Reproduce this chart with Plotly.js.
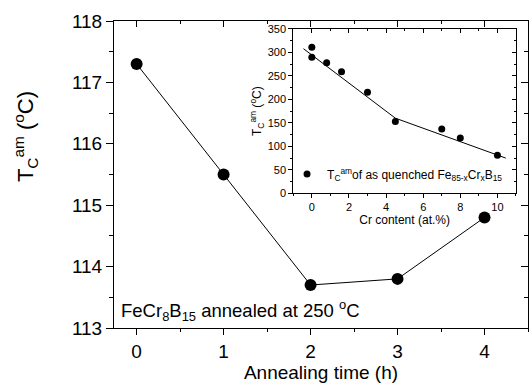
<!DOCTYPE html>
<html>
<head>
<meta charset="utf-8">
<script src="https://cdn.plot.ly/plotly-3.0.1.min.js"></script>
<style>html,body{margin:0;padding:0;background:#fff;}#chart{width:529px;height:385px;}</style>
</head>
<body>
<div id="chart"></div>
<script>
// Main chart data
const annealTime = [0, 1, 2, 3, 4];
const tcAnnealed = [117.3, 115.5, 113.7, 113.8, 114.8];

// Inset data
const crContent = [0, 0, 0.8, 1.6, 3, 4.5, 7, 8, 10];
const tcQuenched = [311, 290, 278, 259, 215, 153, 137, 118, 81];

// Inset guide line
const fitX = [-0.45, 4.5, 10.45];
const fitY = [308, 160, 75];

const mainXTicks = [0, 1, 2, 3, 4];
const mainYTicks = [113, 114, 115, 116, 117, 118];
const insetXTicks = [0, 2, 4, 6, 8, 10];
const insetYTicks = [0, 50, 100, 150, 200, 250, 300, 350];

const FONT = 'Liberation Sans, Arial, sans-serif';

const traces = [
  {x: annealTime, y: tcAnnealed, xaxis: 'x', yaxis: 'y', mode: 'lines+markers',
   line: {color: '#000', width: 1}, marker: {color: '#000', size: 12}, showlegend: false},
  {x: fitX, y: fitY, xaxis: 'x2', yaxis: 'y2', mode: 'lines',
   line: {color: '#000', width: 1}, showlegend: false},
  {x: crContent, y: tcQuenched, xaxis: 'x2', yaxis: 'y2', mode: 'markers',
   marker: {color: '#000', size: 7},
   name: 'T<sub>C</sub><sup>am</sup>of as quenched Fe<sub>85-x</sub>Cr<sub>x</sub>B<sub>15</sub>', showlegend: true},
  {x: [], y: [], xaxis: 'x3', yaxis: 'y3', showlegend: false},
  {x: [], y: [], xaxis: 'x4', yaxis: 'y4', showlegend: false}
];

const insetXDom = [0.433, 0.971];
const insetYDom = [0.4388, 0.974];

const layout = {
  width: 529, height: 385,
  margin: {l: 114, r: 1, t: 21, b: 57, pad: 0},
  paper_bgcolor: '#fff', plot_bgcolor: '#fff',
  font: {family: FONT, color: '#000'},
  showlegend: true,
  legend: {x: 0.418, y: 0.502, xanchor: 'left', yanchor: 'middle', bgcolor: 'rgba(0,0,0,0)',
           borderwidth: 0, font: {size: 12, family: FONT}, itemwidth: 30},
  xaxis: {domain: [0, 1], anchor: 'y', range: [-0.26, 4.5], tickvals: mainXTicks,
          ticks: 'outside', ticklen: 6, tickwidth: 1, tickcolor: '#000',
          minor: {dtick: 0.5, ticks: 'outside', ticklen: 3, tickcolor: '#000', showgrid: false},
          showline: true, linecolor: '#000', linewidth: 1, showgrid: false, zeroline: false,
          tickfont: {size: 19}, title: {text: 'Annealing time (h)', font: {size: 19}, standoff: 4}},
  yaxis: {domain: [0, 1], anchor: 'x', range: [113, 118], tickvals: mainYTicks,
          ticks: 'outside', ticklen: 7, tickwidth: 1, tickcolor: '#000',
          minor: {dtick: 0.5, ticks: 'outside', ticklen: 4, tickcolor: '#000', showgrid: false},
          showline: true, linecolor: '#000', linewidth: 1, showgrid: false, zeroline: false,
          tickfont: {size: 19}},
  xaxis3: {overlaying: 'x', anchor: 'y', side: 'top', range: [-0.26, 4.5], tickvals: mainXTicks,
           ticks: 'inside', ticklen: 6, tickcolor: '#000',
           minor: {dtick: 0.5, ticks: 'inside', ticklen: 3, tickcolor: '#000', showgrid: false},
           showticklabels: false, showline: true, linecolor: '#000', showgrid: false, zeroline: false},
  yaxis3: {overlaying: 'y', anchor: 'x', side: 'right', range: [113, 118], tickvals: mainYTicks,
           ticks: 'inside', ticklen: 7, tickcolor: '#000',
           minor: {dtick: 0.5, ticks: 'inside', ticklen: 4, tickcolor: '#000', showgrid: false},
           showticklabels: false, showline: true, linecolor: '#000', showgrid: false, zeroline: false},
  xaxis2: {domain: insetXDom, anchor: 'y2', range: [-1, 11], tickvals: insetXTicks,
           ticks: 'outside', ticklen: 4, tickcolor: '#000',
           minor: {dtick: 1, ticks: 'outside', ticklen: 2, tickcolor: '#000', showgrid: false},
           showline: true, linecolor: '#000', showgrid: false, zeroline: false,
           tickfont: {size: 11}, title: {text: 'Cr content (at.%)', font: {size: 12}, standoff: 0}},
  yaxis2: {domain: insetYDom, anchor: 'x2', range: [0, 350], tickvals: insetYTicks,
           ticks: 'outside', ticklen: 4, tickcolor: '#000',
           minor: {dtick: 25, ticks: 'outside', ticklen: 2, tickcolor: '#000', showgrid: false},
           showline: true, linecolor: '#000', showgrid: false, zeroline: false,
           tickfont: {size: 11}, title: {text: 'T<sub>C</sub><sup>am</sup> (<sup>o</sup>C)', font: {size: 12}, standoff: 3}},
  xaxis4: {domain: insetXDom, overlaying: 'x2', anchor: 'y2', side: 'top', range: [-1, 11], tickvals: insetXTicks,
           ticks: 'inside', ticklen: 4, tickcolor: '#000',
           minor: {dtick: 1, ticks: 'inside', ticklen: 2, tickcolor: '#000', showgrid: false},
           showticklabels: false, showline: true, linecolor: '#000', showgrid: false, zeroline: false},
  yaxis4: {domain: insetYDom, overlaying: 'y2', anchor: 'x2', side: 'right', range: [0, 350], tickvals: insetYTicks,
           ticks: 'inside', ticklen: 4, tickcolor: '#000',
           minor: {dtick: 25, ticks: 'inside', ticklen: 2, tickcolor: '#000', showgrid: false},
           showticklabels: false, showline: true, linecolor: '#000', showgrid: false, zeroline: false},
  annotations: [
    {xref: 'paper', yref: 'paper', x: -0.215, y: 0.625, xanchor: 'center', yanchor: 'middle',
     textangle: -90, showarrow: false,
     text: 'T<sub>C</sub><sup>am</sup> (<sup>o</sup>C)', font: {size: 22}},
    {xref: 'paper', yref: 'paper', x: 0.012, y: 0.005, xanchor: 'left', yanchor: 'bottom',
     showarrow: false, text: 'FeCr<sub>8</sub>B<sub>15</sub> annealed at 250 <sup>o</sup>C', font: {size: 18.5}}
  ]
};

Plotly.newPlot('chart', traces, layout, {staticPlot: true, displayModeBar: false});
</script>
</body>
</html>
